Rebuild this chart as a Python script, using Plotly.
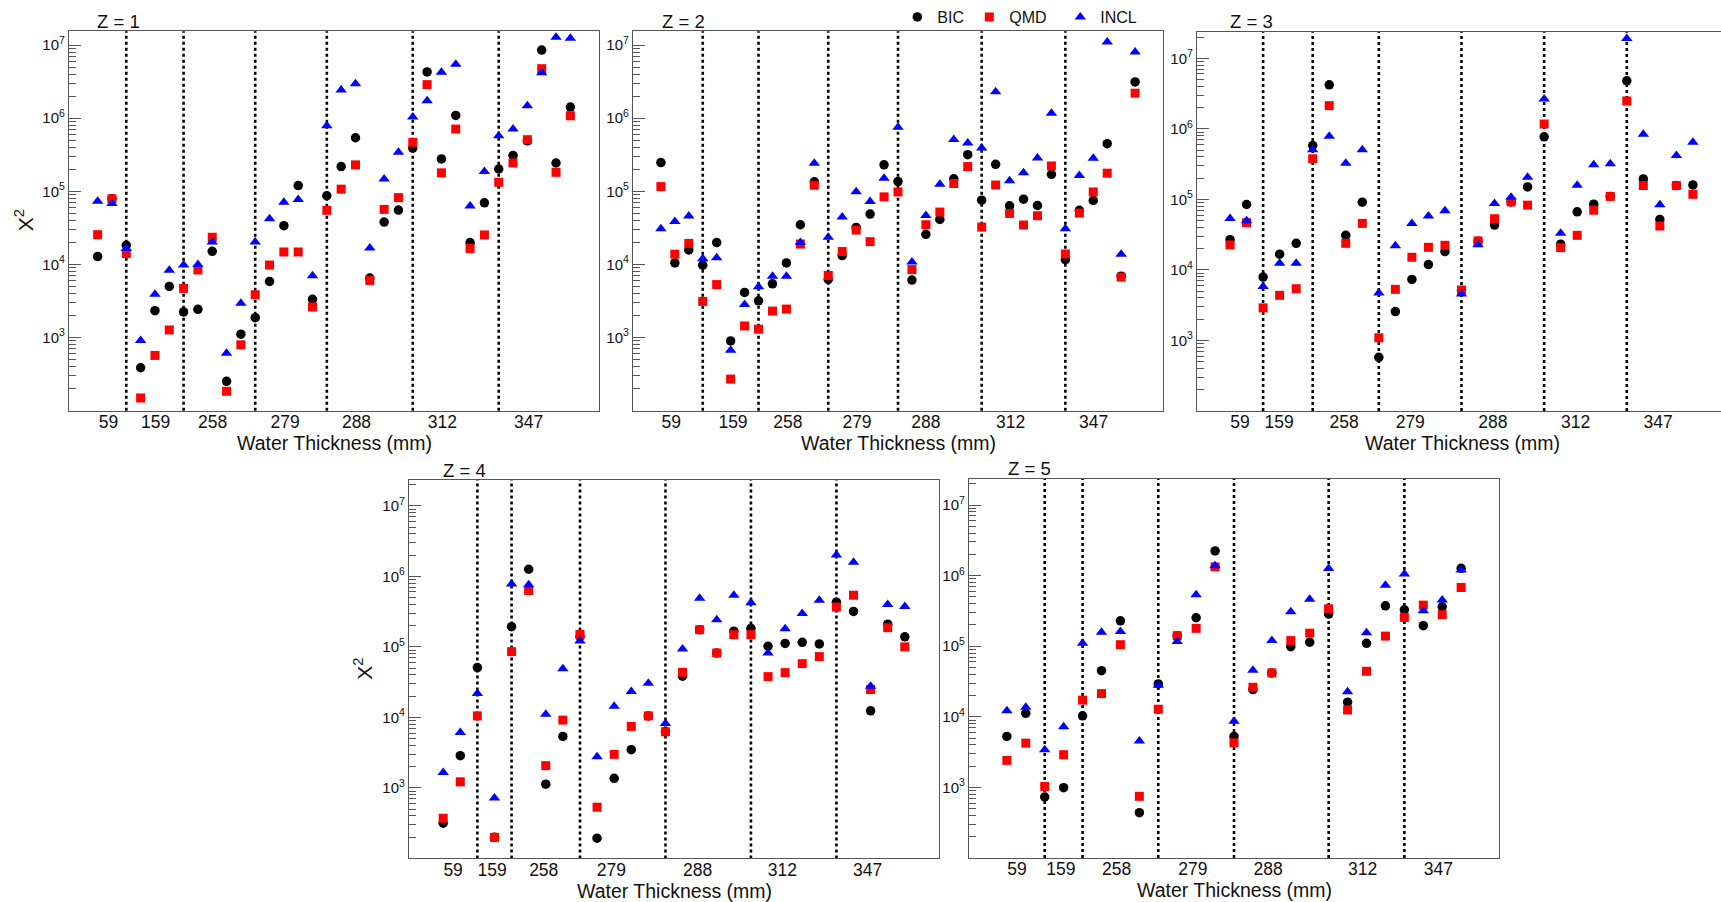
import plotly.graph_objects as go

W, H = 1721, 902

series = ["BIC", "QMD", "INCL"]
colors = {"BIC": "#000000", "QMD": "#ff0000", "INCL": "#0000ff"}
symbols = {"BIC": "circle", "QMD": "square", "INCL": "triangle-up"}
msize = {"BIC": 9.5, "QMD": 9, "INCL": 10}

thickness_labels = ["59", "159", "258", "279", "288", "312", "347"]

# ---- Z = 1 ----
z1_bic = [1.28e4, 7.9e4, 1.83e4, 386, 2.33e3, 5.0e3, 2.24e3, 2.43e3, 1.51e4, 252, 1.11e3, 1.87e3,
          5.85e3, 3.39e4, 1.2e5, 3.33e3, 8.7e4, 2.18e5, 5.4e5, 6.5e3, 3.8e4, 5.54e4, 3.9e5, 4.3e6,
          2.77e5, 1.09e6, 1.99e4, 6.97e4, 2.02e5, 3.08e5, 4.9e5, 8.55e6, 2.44e5, 1.42e6]
z1_qmd = [2.55e4, 7.9e4, 1.41e4, 149, 569, 1.27e3, 4.7e3, 8.4e3, 2.35e4, 184, 794, 3.85e3,
          9.8e3, 1.48e4, 1.48e4, 2.62e3, 5.5e4, 1.07e5, 2.3e5, 6.04e3, 5.66e4, 8.2e4, 4.67e5, 2.88e6,
          1.79e5, 7.1e5, 1.65e4, 2.53e4, 1.33e5, 2.44e5, 5.08e5, 4.76e6, 1.82e5, 1.08e6]
z1_incl = [7.3e4, 6.8e4, 1.65e4, 910, 3.9e3, 8.3e3, 9.8e3, 1.0e4, 2.03e4, 612, 2.94e3, 2.03e4,
           4.2e4, 7.1e4, 7.7e4, 6.98e3, 7.9e5, 2.44e6, 2.97e6, 1.68e4, 1.47e5, 3.41e5, 1.04e6, 1.73e6,
           4.25e6, 5.45e6, 6.28e4, 1.86e5, 5.76e5, 7.1e5, 1.48e6, 4.2e6, 1.28e7, 1.24e7]
z1_sep = [2, 6, 11, 16, 22, 28]
z1_lab = [0.76, 4.05, 8.03, 13.08, 18.07, 24.06, 30.08]

# ---- Z = 2 ----
z2_bic = [2.47e5, 1.05e4, 1.58e4, 9.75e3, 1.99e4, 899, 4.14e3, 3.18e3, 5.43e3, 1.05e4, 3.49e4, 1.35e5,
          6.22e3, 1.32e4, 3.21e4, 4.88e4, 2.3e5, 1.36e5, 6.1e3, 2.58e4, 4.13e4, 1.48e5, 3.17e5, 7.57e4,
          2.34e5, 6.34e4, 7.8e4, 6.4e4, 1.71e5, 1.16e4, 5.5e4, 7.49e4, 4.48e5, 6.9e3, 3.13e6]
z2_qmd = [1.16e5, 1.38e4, 1.94e4, 3.12e3, 5.3e3, 270, 1.44e3, 1.3e3, 2.3e3, 2.45e3, 1.9e4, 1.21e5,
          7.05e3, 1.5e4, 2.95e4, 2.05e4, 8.4e4, 9.8e4, 8.5e3, 3.49e4, 5.2e4, 1.28e5, 2.18e5, 3.24e4,
          1.22e5, 4.98e4, 3.46e4, 4.63e4, 2.22e5, 1.39e4, 5.04e4, 9.8e4, 1.77e5, 6.7e3, 2.2e6]
z2_incl = [3.08e4, 3.88e4, 4.58e4, 1.2e4, 1.23e4, 670, 2.84e3, 4.94e3, 6.9e3, 6.9e3, 2.0e4, 2.42e5,
           2.35e4, 4.45e4, 9.84e4, 7.26e4, 1.51e5, 7.55e5, 1.08e4, 4.67e4, 1.25e5, 5.13e5, 4.57e5, 3.9e5,
           2.31e6, 1.39e5, 1.8e5, 2.86e5, 1.17e6, 3.07e4, 1.64e5, 2.83e5, 1.1e7, 1.38e4, 8.03e6]
z2_sep = [3, 7, 12, 17, 23, 29]
z2_lab = [0.74, 5.17, 9.1, 14.06, 19.0, 25.07, 31.03]

# ---- Z = 3 ----
z3_bic = [2.68e4, 8.45e4, 7.9e3, 1.67e4, 2.38e4, 5.8e5, 4.2e6, 3.09e4, 9.12e4, 575, 2.56e3, 7.33e3,
          1.19e4, 1.82e4, 5.1e3, 2.55e4, 4.32e4, 9.2e4, 1.5e5, 7.69e5, 2.31e4, 6.66e4, 8.55e4, 1.1e5,
          4.79e6, 1.95e5, 5.2e4, 1.57e5, 1.6e5]
z3_qmd = [2.26e4, 4.66e4, 2.89e3, 4.36e3, 5.4e3, 3.76e5, 2.13e6, 2.38e4, 4.56e4, 1.09e3, 5.3e3, 1.51e4,
          2.09e4, 2.23e4, 5.18e3, 2.57e4, 5.31e4, 9.2e4, 8.27e4, 1.17e6, 2.07e4, 3.09e4, 7.03e4, 1.1e5,
          2.48e6, 1.57e5, 4.19e4, 1.57e5, 1.18e5]
z3_incl = [5.37e4, 4.97e4, 5.83e3, 1.24e4, 1.24e4, 5.05e5, 7.85e5, 3.24e5, 5.04e5, 4.7e3, 2.19e4, 4.56e4,
           5.79e4, 6.88e4, 4.55e3, 2.28e4, 8.74e4, 1.07e5, 2.05e5, 2.64e6, 3.3e4, 1.58e5, 3.1e5, 3.2e5,
           1.91e7, 8.39e5, 8.37e4, 4.2e5, 6.47e5]
z3_sep = [2, 5, 9, 14, 19, 24]
z3_lab = [0.6, 2.97, 6.9, 10.9, 15.9, 20.9, 25.9]

# ---- Z = 4 ----
z4_bic = [316, 2.86e3, 5.08e4, 199, 1.93e5, 1.26e6, 1.13e3, 5.37e3, 1.4e5, 194, 1.37e3, 3.48e3,
          1.05e4, 6.3e3, 3.83e4, 1.75e5, 8.2e4, 1.67e5, 1.83e5, 1.02e5, 1.12e5, 1.16e5, 1.1e5, 4.3e5,
          3.18e5, 1.24e4, 2.1e5, 1.39e5]
z4_qmd = [372, 1.22e3, 1.05e4, 199, 8.55e4, 6.3e5, 2.07e3, 9.15e3, 1.5e5, 533, 2.99e3, 7.45e3,
          1.05e4, 6.25e3, 4.36e4, 1.75e5, 8.18e4, 1.49e5, 1.49e5, 3.79e4, 4.31e4, 5.78e4, 7.27e4, 3.66e5,
          5.4e5, 2.48e4, 1.87e5, 1.0e5]
z4_incl = [1.66e3, 6.12e3, 2.18e4, 722, 7.8e5, 7.6e5, 1.11e4, 4.91e4, 1.21e5, 2.77e3, 1.44e4, 2.32e4,
           3.05e4, 8.2e3, 9.3e4, 4.9e5, 2.42e5, 5.4e5, 4.21e5, 8.2e4, 1.81e5, 2.97e5, 4.59e5, 2.01e6,
           1.58e6, 2.77e4, 3.99e5, 3.73e5]
z4_sep = [2, 4, 8, 13, 18, 23]
z4_lab = [0.58, 2.86, 5.88, 9.84, 14.88, 19.84, 24.83]

# ---- Z = 5 ----
z5_bic = [5.26e3, 1.12e4, 730, 990, 1.03e4, 4.5e4, 2.29e5, 438, 2.92e4, 1.4e5, 2.53e5, 2.24e6,
          5.26e3, 2.43e4, 4.18e4, 9.84e4, 1.14e5, 2.85e5, 1.61e4, 1.1e5, 3.73e5, 3.28e5, 1.95e5, 3.61e5,
          1.27e6]
z5_qmd = [2.41e3, 4.23e3, 1.03e3, 2.9e3, 1.72e4, 2.13e4, 1.05e5, 746, 1.28e4, 1.41e5, 1.79e5, 1.33e6,
          4.28e3, 2.62e4, 4.18e4, 1.2e5, 1.53e5, 3.39e5, 1.25e4, 4.41e4, 1.39e5, 2.56e5, 3.82e5, 2.79e5,
          6.79e5]
z5_incl = [1.22e4, 1.36e4, 3.4e3, 7.2e3, 1.1e5, 1.57e5, 1.62e5, 4.52e3, 2.8e4, 1.17e5, 5.35e5, 1.38e6,
           8.66e3, 4.55e4, 1.2e5, 3.07e5, 4.64e5, 1.26e6, 2.27e4, 1.55e5, 7.32e5, 1.05e6, 3.18e5, 4.5e5,
           1.2e6]
z5_sep = [2, 4, 8, 12, 17, 21]
z5_lab = [0.53, 2.85, 5.8, 9.83, 13.8, 18.8, 22.8]

# ---- layout (pixel geometry) ----
panels = [
    dict(title="Z = 1", data=(z1_bic, z1_qmd, z1_incl), sep=z1_sep, lab=z1_lab,
         xpx=(69, 599), ypx=(28.3, 409), xr=[-2, 35], yr=[2.0, 7.19], tpx=(118, 19), ytitle=(24, 218), right=True),
    dict(title="Z = 2", data=(z2_bic, z2_qmd, z2_incl), sep=z2_sep, lab=z2_lab,
         xpx=(633, 1163), ypx=(28.3, 409), xr=[-2, 36], yr=[2.0, 7.19], tpx=(683, 19), ytitle=None, right=True),
    dict(title="Z = 3", data=(z3_bic, z3_qmd, z3_incl), sep=z3_sep, lab=z3_lab,
         xpx=(1197, 1721), ypx=(29.3, 409.3), xr=[-2, 29.70], yr=[2.0, 7.37], tpx=(1251, 19), ytitle=None,
         right=False, xcenter=1462),
    dict(title="Z = 4", data=(z4_bic, z4_qmd, z4_incl), sep=z4_sep, lab=z4_lab,
         xpx=(409, 939), ypx=(478.3, 858.3), xr=[-2, 29], yr=[2.0, 7.37], tpx=(464, 469), ytitle=(363, 668), right=True),
    dict(title="Z = 5", data=(z5_bic, z5_qmd, z5_incl), sep=z5_sep, lab=z5_lab,
         xpx=(969, 1499), ypx=(477.5, 857.8), xr=[-2, 26], yr=[2.0, 7.37], tpx=(1029, 467), ytitle=None, right=True),
]

FONT = "Liberation Sans, Arial, sans-serif"
TXT = "#111111"
FRAME = "#555555"

major_vals = [1e3, 1e4, 1e5, 1e6, 1e7]
major_text = ["10<sup>3</sup>", "10<sup>4</sup>", "10<sup>5</sup>", "10<sup>6</sup>", "10<sup>7</sup>"]
minor_vals = [m * 10 ** e for e in range(2, 8) for m in range(2, 10)]

legend_keys = ["legend", "legend2", "legend3"]
legend_marker_px = [918, 990, 1081]   # legend marker centres (px)

fig = go.Figure()
layout = dict(width=W, height=H, margin=dict(l=0, r=0, t=0, b=0), autosize=False,
              paper_bgcolor="white", plot_bgcolor="white",
              font=dict(family=FONT, color=TXT), shapes=[], annotations=[])

for i, p in enumerate(panels, start=1):
    xa = "x" if i == 1 else f"x{i}"
    ya = "y" if i == 1 else f"y{i}"
    n = len(p["data"][0])
    for k, (s, vals) in enumerate(zip(series, p["data"])):
        fig.add_trace(go.Scatter(
            x=list(range(n)), y=vals, mode="markers", name=s,
            marker=dict(symbol=symbols[s], color=colors[s], size=msize[s], line=dict(width=0)),
            xaxis=xa, yaxis=ya, legendgroup=s, legend=legend_keys[k],
            showlegend=(i == 2), cliponaxis=False))
    x0, x1 = p["xpx"]
    y0, y1 = p["ypx"]
    layout[f"xaxis{i}"] = dict(
        domain=[x0 / W, min(x1 / W, 1.0)], range=p["xr"], anchor=ya,
        tickmode="array", tickvals=p["lab"], ticktext=thickness_labels, ticks="",
        ticklabelstandoff=-5,
        tickfont=dict(size=17.5, color=TXT), showline=True, linecolor=FRAME, linewidth=1.3,
        mirror=True, showgrid=False, zeroline=False, fixedrange=True)
    layout[f"yaxis{i}"] = dict(
        domain=[1 - y1 / H, 1 - y0 / H], range=p["yr"], type="log", anchor=xa,
        tickmode="array", tickvals=major_vals, ticktext=major_text,
        ticks="inside", ticklen=12, tickwidth=1, tickcolor=FRAME,
        minor=dict(tickmode="array", tickvals=minor_vals, ticks="inside", ticklen=7,
                   tickwidth=1, tickcolor=FRAME, showgrid=False),
        tickfont=dict(size=15, color=TXT), showline=True, linecolor=FRAME, linewidth=1.3,
        mirror=p["right"], showgrid=False, zeroline=False, fixedrange=True)
    for sx in p["sep"]:
        layout["shapes"].append(dict(
            type="line", xref=xa, yref=f"{ya} domain", x0=sx, x1=sx, y0=0, y1=1,
            line=dict(color="black", width=2.6, dash="dot"), layer="below"))
    # panel title
    layout["annotations"].append(dict(
        text=p["title"], xref="paper", yref="paper", x=p["tpx"][0] / W, y=1 - p["tpx"][1] / H,
        xanchor="center", yanchor="middle", showarrow=False, font=dict(size=18.5, color=TXT)))
    # x axis title
    xc = p.get("xcenter", (x0 + x1) / 2)
    layout["annotations"].append(dict(
        text="Water Thickness (mm)", xref="paper", yref="paper", x=xc / W, y=1 - (y1 + 32.5) / H,
        xanchor="center", yanchor="middle", showarrow=False, font=dict(size=19.5, color=TXT)))
    if p["ytitle"]:
        layout["annotations"].append(dict(
            text="X<sup>2</sup>", xref="paper", yref="paper", x=p["ytitle"][0] / W, y=1 - p["ytitle"][1] / H,
            xanchor="center", yanchor="middle", showarrow=False, textangle=-90,
            font=dict(size=21, color=TXT)))

for key, mx in zip(legend_keys, legend_marker_px):
    layout[key] = dict(orientation="h", x=(mx - 20.7) / W, y=1.0038, xanchor="left", yanchor="top",
                       bgcolor="rgba(255,255,255,0)", font=dict(size=16, color=TXT),
                       itemsizing="trace")

fig.update_layout(**layout)
fig.write_html("out.html")
